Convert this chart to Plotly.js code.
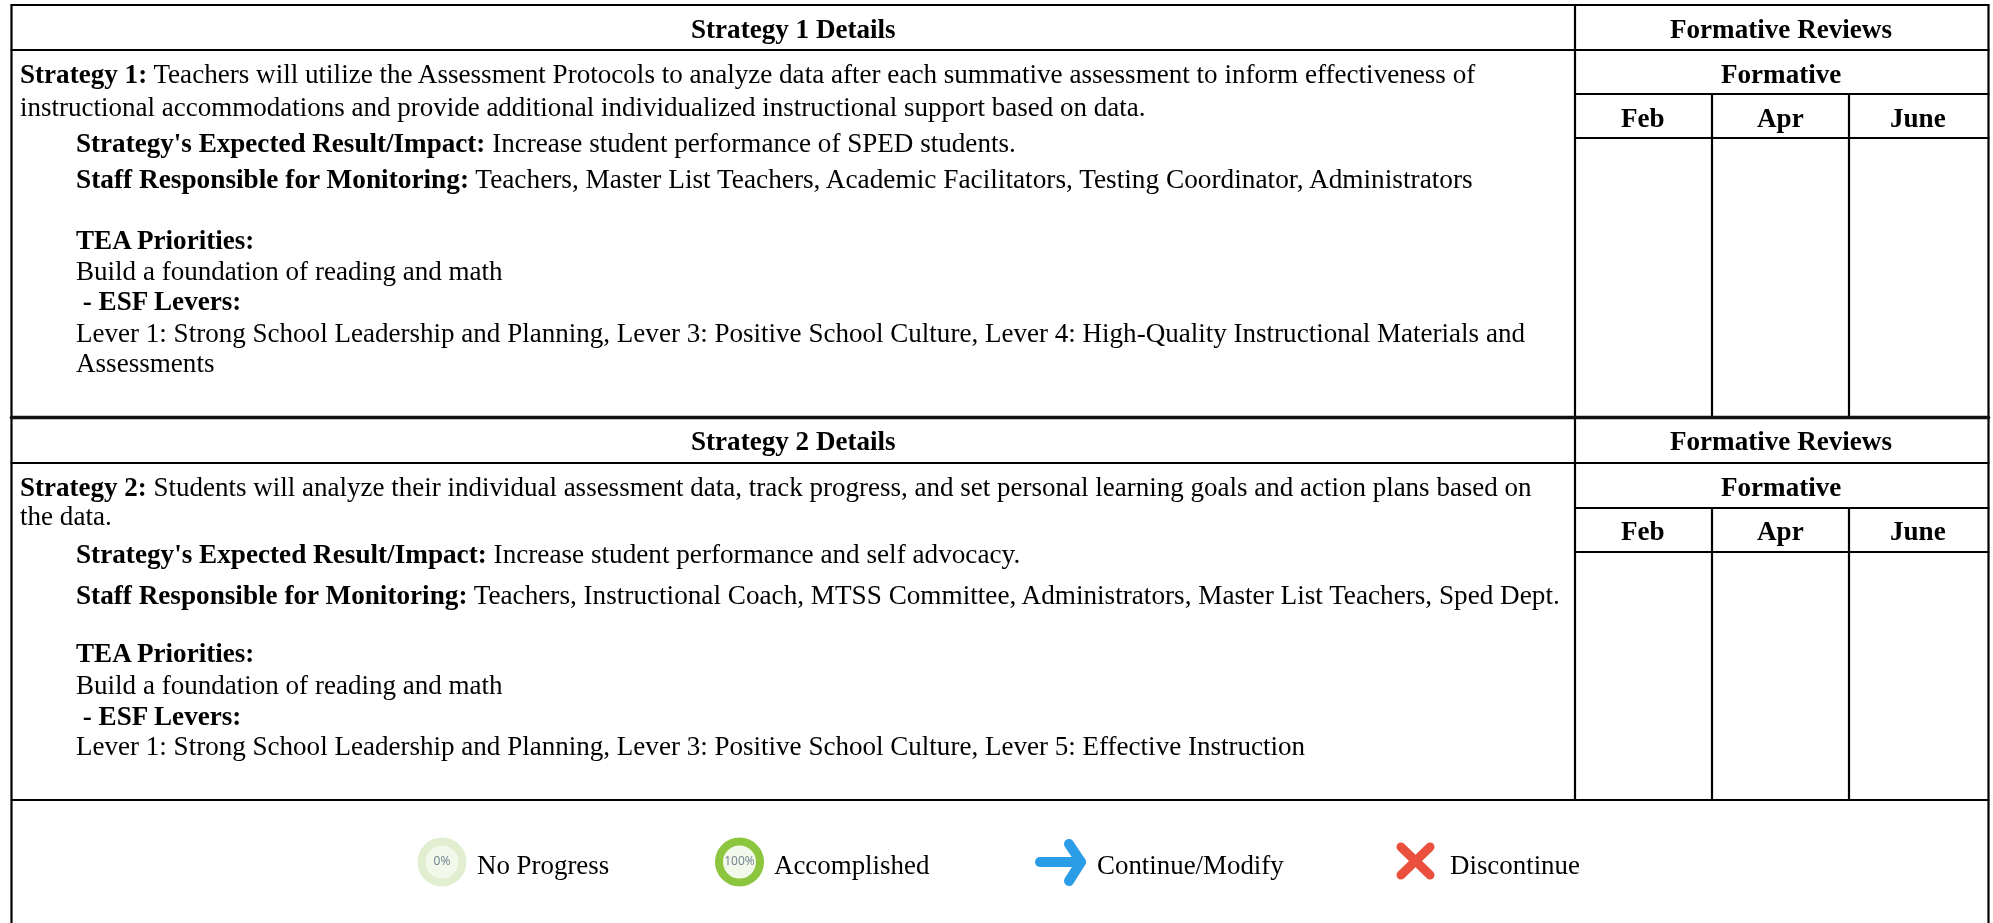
<!DOCTYPE html>
<html><head><meta charset="utf-8">
<script src="https://cdn.plot.ly/plotly-3.0.1.min.js"></script>
<style>html,body{margin:0;padding:0;background:#fff}
#chart{filter:blur(0.35px)}
.js-line{stroke-linecap:round;stroke-linejoin:round}</style></head>
<body><div id="chart" style="width:1993px;height:923px"></div>
<script>
// Text content
const bodyText=[
 "<b>Strategy 1:</b> Teachers will utilize the Assessment Protocols to analyze data after each summative assessment to inform effectiveness of",
 "instructional accommodations and provide additional individualized instructional support based on data.",
 "<b>Strategy's Expected Result/Impact:</b> Increase student performance of SPED students.",
 "<b>Staff Responsible for Monitoring:</b> Teachers, Master List Teachers, Academic Facilitators, Testing Coordinator, Administrators",
 "<b>TEA Priorities:</b>",
 "Build a foundation of reading and math",
 " <b>- ESF Levers:</b>",
 "Lever 1: Strong School Leadership and Planning, Lever 3: Positive School Culture, Lever 4: High-Quality Instructional Materials and",
 "Assessments",
 "<b>Strategy 2:</b> Students will analyze their individual assessment data, track progress, and set personal learning goals and action plans based on",
 "the data.",
 "<b>Strategy's Expected Result/Impact:</b> Increase student performance and self advocacy.",
 "<b>Staff Responsible for Monitoring:</b> Teachers, Instructional Coach, MTSS Committee, Administrators, Master List Teachers, Sped Dept.",
 "<b>TEA Priorities:</b>",
 "Build a foundation of reading and math",
 " <b>- ESF Levers:</b>",
 "Lever 1: Strong School Leadership and Planning, Lever 3: Positive School Culture, Lever 5: Effective Instruction"
];
const headerText=["Strategy 1 Details","Formative Reviews","Formative","Feb","Apr","June","Strategy 2 Details","Formative Reviews","Formative","Feb","Apr","June"];
const legendText=["No Progress","Accomplished","Continue/Modify","Discontinue"];
const gaugeText=["0%","100%"];

// Page layout, in page pixels
const bodyX=[20,20,76,76,76,76,76,76,76,20,20,76,76,76,76,76,76];
const bodyY=[74,107,143,179,240,271,301,333,363,487,516,554,595,653,685,716,746];
const bodySize=[27.1,27,27.1,27.3,27.1,27.05,27.1,27.05,27.1,27,27.1,27.2,27.2,27.1,27.05,27.1,27.05];
const headerX=[793,1781,1781,1643,1780,1918,793,1781,1781,1643,1780,1918];
const headerY=[29,29,74,118,118,118,441,441,487,531,531,531];
const legendX=[477,774,1097,1450];
const legendY=865;
const L=11.5,R=1988.5,TOP=5,BOTTOM=924,C0=1575,C1=1712,C2=1849;
const hRules=[[L,R,5],[L,R,50],[C0,R,94],[C0,R,138],[L,R,463],[C0,R,508],[C0,R,552],[L,R,800]];
const vRules=[[L,TOP,BOTTOM],[R,TOP,BOTTOM],[C0,TOP,800],[C1,94,417],[C2,94,417],[C1,508,800],[C2,508,800]];
const sectionRuleY=417.5;
const gaugeX=[442,739.5], gaugeY=862;
const gaugeRing=['#e2eed0','#8cc63f'];
const arrowShaft=[[1040,1081],[862,862]], arrowHead=[[1069,1081,1069],[844,862,881]];
const cross1=[[1401,1430],[847,875]], cross2=[[1430,1401],[847,875]];

const lineTrace=(x,y,w,c)=>({x,y,mode:'lines',line:{color:c,width:w},hoverinfo:'skip',showlegend:false});
const traces=[];
hRules.forEach(r=>traces.push(lineTrace([r[0],r[1]],[r[2],r[2]],2.2,'#000')));
vRules.forEach(r=>traces.push(lineTrace([r[0],r[0]],[r[1],r[2]],2.2,'#000')));
traces.push(lineTrace([L,R],[sectionRuleY,sectionRuleY],3.6,'#111'));
gaugeText.forEach((t,i)=>traces.push({x:[gaugeX[i]],y:[gaugeY],mode:'markers+text',text:[t],textposition:'middle center',
 textfont:{family:'Open Sans',size:12,color:'#6b8090'},marker:{size:41,color:'#f2f8ea',line:{color:gaugeRing[i],width:8}},hoverinfo:'skip',showlegend:false}));
[arrowShaft,arrowHead].forEach(p=>traces.push(lineTrace(p[0],p[1],10,'#2b9de6')));
[cross1,cross2].forEach(p=>traces.push(lineTrace(p[0],p[1],9,'#eb4f3d')));

const ann=[];
const mk=(x,y,text,anchor,size)=>ann.push({x,y,xref:'x',yref:'y',text,showarrow:false,xanchor:anchor,yanchor:'middle',borderpad:0,borderwidth:0,align:anchor,font:{family:'Liberation Serif',size,color:'#000'}});
bodyText.forEach((t,i)=>mk(bodyX[i],bodyY[i],t,'left',bodySize[i]));
headerText.forEach((t,i)=>mk(headerX[i],headerY[i],'<b>'+t+'</b>','center',27.1));
legendText.forEach((t,i)=>mk(legendX[i],legendY,t,'left',26.9));

Plotly.newPlot('chart',traces,{
 width:1993,height:923,margin:{l:0,r:0,t:0,b:0},paper_bgcolor:'#fff',plot_bgcolor:'#fff',
 xaxis:{range:[0,1993],visible:false,fixedrange:true},
 yaxis:{range:[923,0],visible:false,fixedrange:true},
 annotations:ann,showlegend:false
},{displayModeBar:false,staticPlot:true});
</script></body></html>
